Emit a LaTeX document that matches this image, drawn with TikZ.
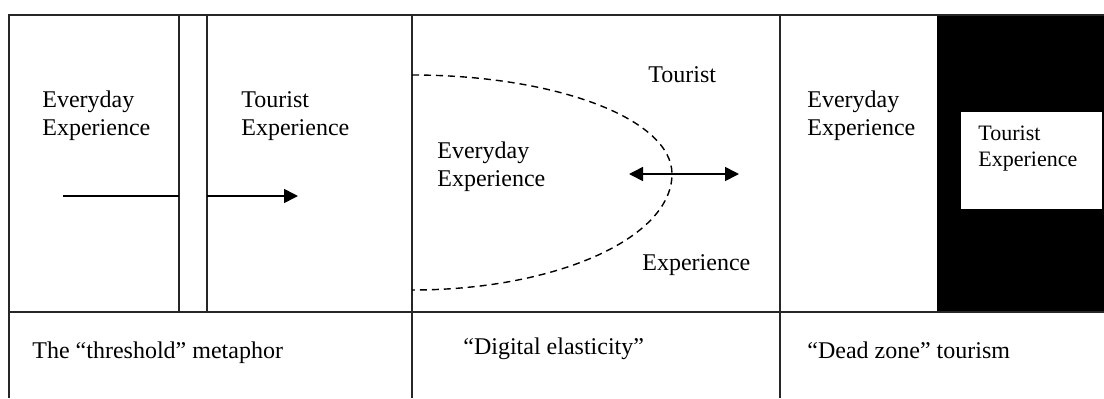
\documentclass[tikz,border=0pt]{standalone}
\usepackage{fontspec}
\setmainfont{Liberation Serif}
\usetikzlibrary{arrows.meta}
\tikzset{
  frame/.style={line width=1pt,black!85},
  lbl/.style={inner sep=0pt,anchor=base west,align=left,font=\fontsize{12pt}{14pt}\selectfont},
  smalllbl/.style={inner sep=0pt,anchor=base west,align=left,font=\fontsize{11pt}{13pt}\selectfont},
  conn/.style={line width=0.8pt},
  tip/.style={-{Triangle[length=7pt,width=7pt]}},
  dtip/.style={{Triangle[length=7pt,width=7pt]}-{Triangle[length=7pt,width=7pt]}},
  dash line/.style={line width=0.7pt,dash pattern=on 3.5pt off 2.5pt}
}
\begin{document}
\begin{tikzpicture}[x=0.5pt,y=-0.5pt]
\useasboundingbox (0,0) rectangle (1104,398);
% black zone and white box
\fill[black] (937,15) rectangle (1104,312);
\fill[white] (961,112) rectangle (1102,209);
% frame lines
\draw[frame] (1104,15) -- (9,15) -- (9,398);
\draw[frame] (9,312) -- (1104,312);
\draw[frame] (179,15) -- (179,312);
\draw[frame] (207,15) -- (207,312);
\draw[frame] (412,15) -- (412,398);
\draw[frame] (780,15) -- (780,398);
% panel 1 (multi-line nodes: base = last line)
\node[lbl] (e1) at (42,135) {Everyday\\Experience};
\node[lbl] (t1) at (241,135) {Tourist\\Experience};
\coordinate (a1) at (63,196);
\coordinate (a2) at (179,196);
\coordinate (a3) at (207,196);
\coordinate (a4) at (298,196);
\draw[conn] (a1) -- (a2);
\draw[conn,tip] (a3) -- (a4);
\node[lbl] (c1) at (32,358) {The “threshold” metaphor};
% panel 2
\coordinate (p0) at (412,75);
\coordinate (p1) at (672,174);
\coordinate (p2) at (412,290);
\draw[dash line] (p0) .. controls (556,75) and (672,119) .. (p1)
  .. controls (672,238) and (556,290) .. (p2);
\node[lbl] (t2) at (648,82) {Tourist};
\node[lbl] (e2) at (437,186) {Everyday\\Experience};
\node[lbl] (x2) at (642,270) {Experience};
\coordinate (b1) at (629,174);
\coordinate (b2) at (739,174);
\draw[conn,dtip] (b1) -- (b2);
\node[lbl] (c2) at (463,354) {“Digital elasticity”};
% panel 3
\node[lbl] (e3) at (807,135) {Everyday\\Experience};
\node[smalllbl] (t3) at (978,166) {Tourist\\Experience};
\node[lbl] (c3) at (807,358) {“Dead zone” tourism};
\end{tikzpicture}
\end{document}
